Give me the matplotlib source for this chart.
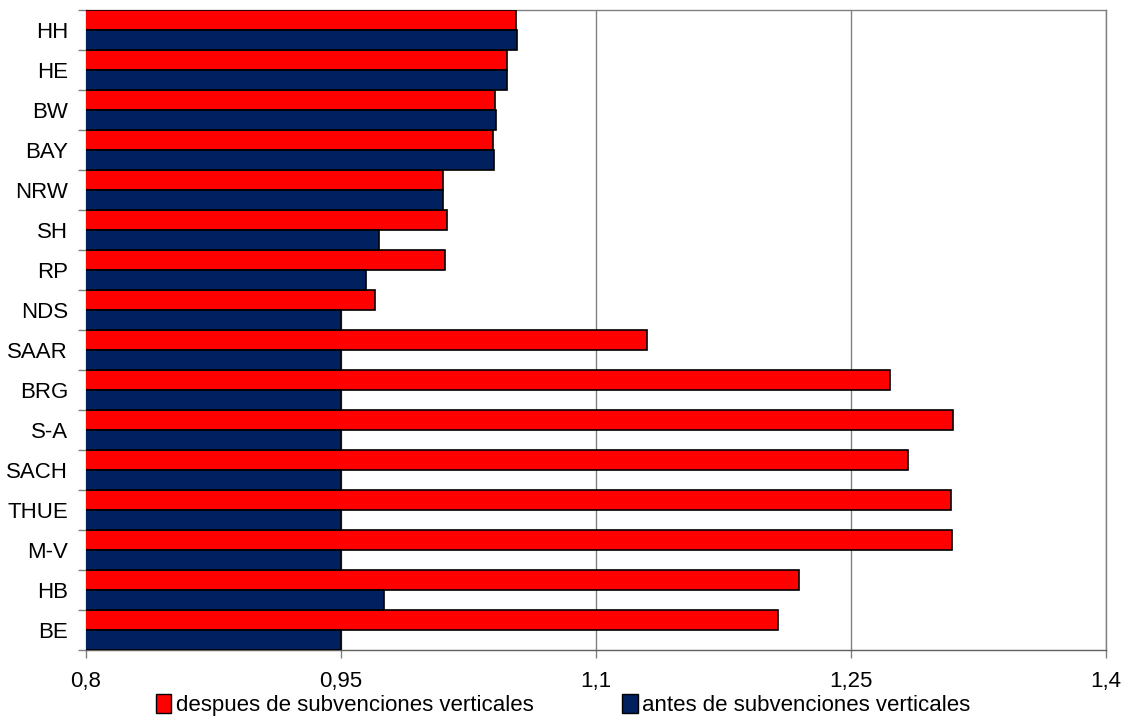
import matplotlib
matplotlib.use("Agg")
import matplotlib.pyplot as plt
from matplotlib import font_manager
from matplotlib.patches import Patch
from matplotlib.ticker import FixedLocator

# Regions (top to bottom) and the two index series
regions = ["HH", "HE", "BW", "BAY", "NRW", "SH", "RP", "NDS",
           "SAAR", "BRG", "S-A", "SACH", "THUE", "M-V", "HB", "BE"]
despues = [1.0531, 1.0475, 1.0408, 1.0396, 1.0098, 1.0122, 1.0114, 0.9702,
           1.1298, 1.2729, 1.3102, 1.2834, 1.3088, 1.3094, 1.2196, 1.2069]
antes = [1.0534, 1.0478, 1.0410, 1.0398, 1.0098, 0.9722, 0.9647, 0.9500,
         0.9500, 0.9500, 0.9500, 0.9500, 0.9500, 0.9500, 0.9753, 0.9500]
x_ticks = [0.8, 0.95, 1.1, 1.25, 1.4]
x_tick_labels = ["0,8", "0,95", "1,1", "1,25", "1,4"]
label_despues = "despues de subvenciones verticales"
label_antes = "antes de subvenciones verticales"

RED = "#FF0000"
NAVY = "#002060"
GRID = "#808080"

# Prefer a narrow Arial-like face when one is available
available = {f.name for f in font_manager.fontManager.ttflist}
family = "Liberation Sans Narrow" if "Liberation Sans Narrow" in available else "Liberation Sans"
plt.rcParams["font.family"] = [family, "DejaVu Sans"]

fig = plt.figure(figsize=(11.26, 7.18), dpi=100)
ax = fig.add_axes([86 / 1126, 1 - 650 / 718, 1020 / 1126, 640 / 718])

ypos = list(range(len(regions)))
ax.barh([y - 0.25 for y in ypos], despues, height=0.5, color=RED,
        edgecolor="black", linewidth=1.2, zorder=3)
ax.barh([y + 0.25 for y in ypos], antes, height=0.5, color=NAVY,
        edgecolor="black", linewidth=1.2, zorder=3)

ax.set_xlim(0.8, 1.4)
ax.set_ylim(len(regions) - 0.5, -0.5)

ax.set_xticks(x_ticks)
ax.set_xticklabels(x_tick_labels)
ax.xaxis.grid(True, color=GRID, linewidth=1.0, zorder=0)
ax.set_axisbelow(True)

ax.set_yticks(ypos)
ax.set_yticklabels(regions)
ax.yaxis.set_minor_locator(FixedLocator([y - 0.5 for y in range(len(regions) + 1)]))
ax.tick_params(axis="y", which="major", length=0, pad=13, labelsize=16)
ax.tick_params(axis="y", which="minor", length=6, width=1, color=GRID)
ax.tick_params(axis="x", which="major", length=6, width=1, color=GRID,
               pad=9, labelsize=16)

for side in ["top", "right", "bottom", "left"]:
    ax.spines[side].set_color(GRID)
    ax.spines[side].set_linewidth(1.0)
ax.spines["bottom"].set_color("#606060")

handles = [Patch(facecolor=RED, edgecolor="black", linewidth=1.0, label=label_despues),
           Patch(facecolor=NAVY, edgecolor="black", linewidth=1.0, label=label_antes)]
fig.legend(handles=handles, loc="center", bbox_to_anchor=(0.5, 1 - 705 / 718),
           ncol=2, frameon=False, fontsize=16, handlelength=0.7, handleheight=0.9,
           handletextpad=0.2, columnspacing=4.0, borderpad=0)

fig.savefig("out.png", dpi=100)
